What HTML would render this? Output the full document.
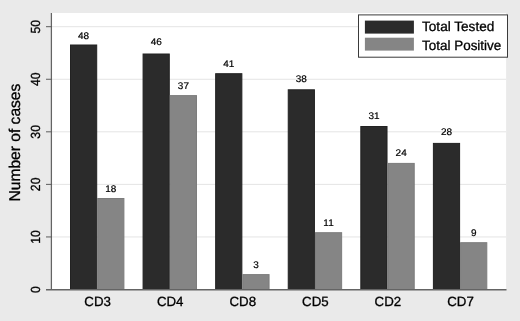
<!DOCTYPE html>
<html>
<head>
<meta charset="utf-8">
<style>
html,body{margin:0;padding:0;width:520px;height:321px;overflow:hidden;background:#eaeaea;}
svg{display:block;filter:grayscale(1);}
text{font-family:"Liberation Sans",sans-serif;fill:#000;stroke:#000;stroke-width:0.3px;text-rendering:geometricPrecision;}
.v text{stroke-width:0.2px;}
</style>
</head>
<body>
<svg width="520" height="321" viewBox="0 0 520 321">
<rect x="0" y="0" width="520" height="321" fill="#eaeaea"/>
<!-- plot region -->
<rect x="52" y="13" width="454.1" height="276.5" fill="#ffffff"/>
<!-- gridlines -->
<g stroke="#e4e4e4" stroke-width="1">
<line x1="52" x2="506" y1="26.7" y2="26.7"/>
<line x1="52" x2="506" y1="79.26" y2="79.26"/>
<line x1="52" x2="506" y1="131.82" y2="131.82"/>
<line x1="52" x2="506" y1="184.38" y2="184.38"/>
<line x1="52" x2="506" y1="236.94" y2="236.94"/>
</g>
<!-- bars -->
<g fill="#2b2b2b" stroke="#222" stroke-width="1">
<rect x="70.50" y="45.00" width="26.20" height="244.50"/>
<rect x="143.08" y="54.00" width="26.20" height="235.50"/>
<rect x="215.66" y="73.70" width="26.20" height="215.80"/>
<rect x="288.24" y="89.80" width="26.20" height="199.70"/>
<rect x="360.82" y="126.50" width="26.20" height="163.00"/>
<rect x="433.40" y="143.40" width="26.20" height="146.10"/>
</g>
<g fill="#858585" stroke="#7c7c7c" stroke-width="1">
<rect x="97.70" y="198.50" width="26.20" height="91.00"/>
<rect x="170.28" y="95.60" width="26.20" height="193.90"/>
<rect x="242.86" y="274.60" width="26.20" height="14.90"/>
<rect x="315.44" y="232.70" width="26.20" height="56.80"/>
<rect x="388.02" y="163.40" width="26.20" height="126.10"/>
<rect x="460.60" y="242.70" width="26.20" height="46.80"/>
</g>
<!-- axes -->
<g stroke="#5c5c5c" stroke-width="1">
<line x1="51.4" x2="51.4" y1="13" y2="290" stroke="#646464" stroke-width="1.25"/>
<line x1="46" x2="506.5" y1="289.7" y2="289.7" stroke="#646464" stroke-width="1.35"/>
<line x1="46" x2="52" y1="26.7" y2="26.7"/>
<line x1="46" x2="52" y1="79.26" y2="79.26"/>
<line x1="46" x2="52" y1="131.82" y2="131.82"/>
<line x1="46" x2="52" y1="184.38" y2="184.38"/>
<line x1="46" x2="52" y1="236.94" y2="236.94"/>
</g>
<!-- y tick labels -->
<g font-size="13.2" text-anchor="middle">
<text transform="translate(40.3,26.7) rotate(-90) scale(0.93,1)">50</text>
<text transform="translate(40.3,79.26) rotate(-90) scale(0.93,1)">40</text>
<text transform="translate(40.3,131.82) rotate(-90) scale(0.93,1)">30</text>
<text transform="translate(40.3,184.38) rotate(-90) scale(0.93,1)">20</text>
<text transform="translate(40.3,236.94) rotate(-90) scale(0.93,1)">10</text>
<text transform="translate(40.3,289.5) rotate(-90) scale(0.93,1)">0</text>
</g>
<!-- y axis title -->
<text font-size="15.6" text-anchor="middle" transform="translate(19.6,142.6) rotate(-90)">Number of cases</text>
<!-- value labels -->
<g font-size="9.6" text-anchor="middle" class="v">
<text transform="translate(83.60,38.65) scale(1.04,1)">48</text>
<text transform="translate(110.80,191.55) scale(1.04,1)">18</text>
<text transform="translate(156.18,45.45) scale(1.04,1)">46</text>
<text transform="translate(183.38,89.05) scale(1.04,1)">37</text>
<text transform="translate(228.76,67.45) scale(1.04,1)">41</text>
<text transform="translate(255.96,267.55) scale(1.04,1)">3</text>
<text transform="translate(301.34,82.25) scale(1.04,1)">38</text>
<text transform="translate(328.54,225.65) scale(1.04,1)">11</text>
<text transform="translate(373.92,119.35) scale(1.04,1)">31</text>
<text transform="translate(401.12,156.10) scale(1.04,1)">24</text>
<text transform="translate(446.50,134.85) scale(1.04,1)">28</text>
<text transform="translate(473.70,236.45) scale(1.04,1)">9</text>
</g>
<!-- x labels -->
<g font-size="13.3" text-anchor="middle">
<text x="97.60" y="306.4">CD3</text>
<text x="170.18" y="306.4">CD4</text>
<text x="242.76" y="306.4">CD8</text>
<text x="315.34" y="306.4">CD5</text>
<text x="387.92" y="306.4">CD2</text>
<text x="460.50" y="306.4">CD7</text>
</g>
<!-- legend -->
<rect x="358.5" y="14.9" width="149" height="42.3" fill="#ffffff" stroke="#3a3a3a" stroke-width="1"/>
<rect x="364.9" y="20.6" width="49" height="13" fill="#2b2b2b"/>
<rect x="364.9" y="37.7" width="49" height="12.9" fill="#858585"/>
<g font-size="13.6">
<text x="422" y="31.1">Total Tested</text>
<text x="422" y="49.6" textLength="79.3" lengthAdjust="spacingAndGlyphs">Total Positive</text>
</g>
</svg>
</body>
</html>
